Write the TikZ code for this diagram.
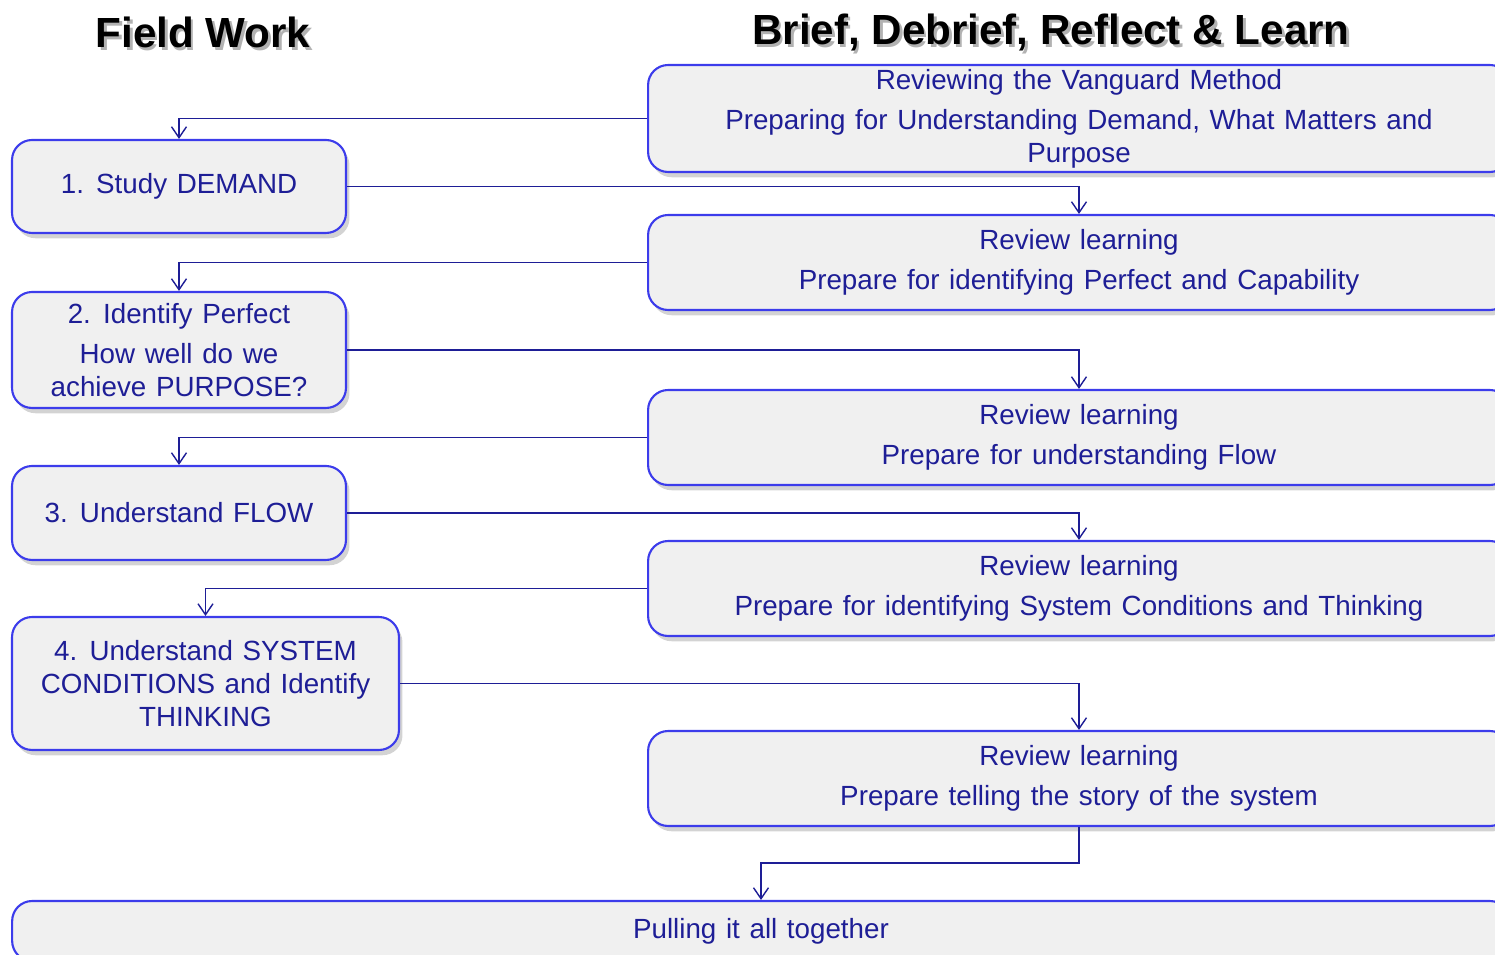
\documentclass[tikz,border=0pt]{standalone}
\usepackage{fontspec}
\setmainfont{Liberation Sans}[WordSpace=1.25]
\newfontfamily\headfont{Liberation Sans}
\usetikzlibrary{arrows.meta,shadows}
\definecolor{txtblue}{RGB}{30,30,150}
\definecolor{linkblue}{RGB}{30,30,150}
\definecolor{edgeblue}{RGB}{60,60,235}
\definecolor{boxfill}{RGB}{240,240,240}
\newcommand{\shadowed}[1]{\makebox[0pt][l]{\hspace{1.5pt}\raisebox{-2pt}{\textcolor{black!30}{#1}}}#1}
\tikzset{
  stagebox/.style={draw=edgeblue, line width=1.2pt, fill=boxfill, rounded corners=0.4cm,
    drop shadow={shadow xshift=2pt, shadow yshift=-3pt, opacity=0.35},
    text=txtblue, align=center, font=\fontsize{15.8}{18.8}\selectfont, inner sep=0pt},
  link/.style={draw=linkblue, line width=0.8pt, -{Straight Barb[length=0.22cm,width=0.3cm]}},
  heading/.style={font=\headfont\fontsize{24}{28}\selectfont\bfseries},
}
\begin{document}
\begin{tikzpicture}[x=0.02cm, y=-0.02cm]
\useasboundingbox (0,0) rectangle (1495,955);
\clip (0,0) rectangle (1495,955);

% column headings
\node[heading] (fw) at (203,34) {\shadowed{Field Work}};
\node[heading] (br) at (1051,34) {\shadowed{Brief, Debrief, Reflect \& Learn}};

% field work stages
\node[stagebox, minimum width=6.68cm, minimum height=1.86cm] (b1) at (179,186.5) {1. Study DEMAND};
\node[stagebox, minimum width=6.68cm, minimum height=2.32cm] (b2) at (179,350) {2. Identify Perfect\\[0.14cm]How well do we\\achieve PURPOSE?};
\node[stagebox, minimum width=6.68cm, minimum height=1.88cm] (b3) at (179,513) {3. Understand FLOW};
\node[stagebox, minimum width=7.74cm, minimum height=2.66cm] (b4) at (205.5,683.5) {4. Understand SYSTEM\\CONDITIONS and Identify\\THINKING};

% brief / debrief stages
\node[stagebox, minimum width=17.24cm, minimum height=2.14cm] (r1) at (1079,118.5) {Reviewing the Vanguard Method\\[0.14cm]Preparing for Understanding Demand, What Matters and\\Purpose};
\node[stagebox, minimum width=17.24cm, minimum height=1.9cm] (r2) at (1079,262.5) {Review learning\\[0.14cm]Prepare for identifying Perfect and Capability};
\node[stagebox, minimum width=17.24cm, minimum height=1.9cm] (r3) at (1079,437.5) {Review learning\\[0.14cm]Prepare for understanding Flow};
\node[stagebox, minimum width=17.24cm, minimum height=1.9cm] (r4) at (1079,588.5) {Review learning\\[0.14cm]Prepare for identifying System Conditions and Thinking};
\node[stagebox, minimum width=17.24cm, minimum height=1.9cm] (r5) at (1079,778.5) {Review learning\\[0.14cm]Prepare telling the story of the system};

\node[stagebox, minimum width=29.96cm, minimum height=1.2cm] (all) at (761,931) {Pulling it all together};

% connectors
\draw[link] (r1.west) -| (b1.north);
\draw[link] (b1.east) -| (r2.north);
\draw[link] (r2.west) -| (b2.north);
\draw[link] (b2.east) -| (r3.north);
\draw[link] (r3.west) -| (b3.north);
\draw[link] (b3.east) -| (r4.north);
\draw[link] (r4.west) -| (b4.north);
\draw[link] (b4.east) -| (r5.north);
\draw[link] (r5.south) -- ++(0,36) -| (all.north);
\end{tikzpicture}
\end{document}
